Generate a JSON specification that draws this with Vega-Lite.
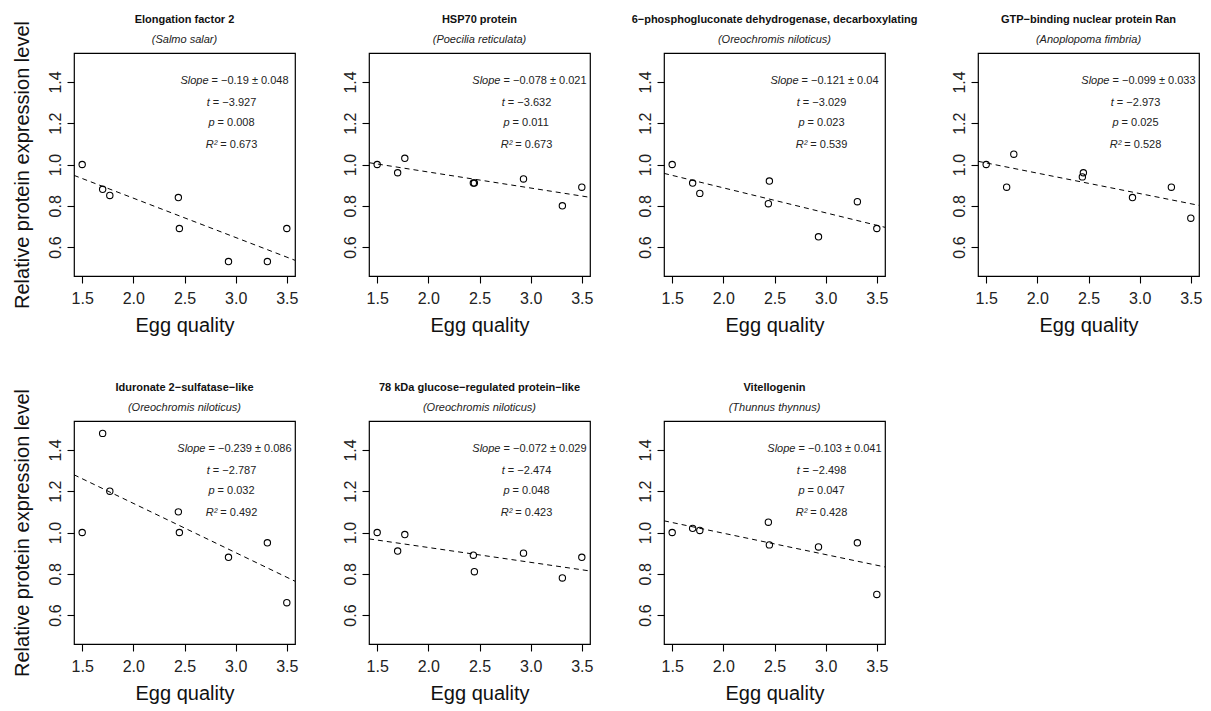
{
  "$schema": "https://vega.github.io/schema/vega-lite/v6.json",
  "background": "white",
  "padding": {"left": 11, "top": 12, "right": 5, "bottom": 5},
  "config": {
    "font": "Liberation Sans",
    "view": {"stroke": "black", "strokeWidth": 1.2},
    "axis": {"grid": false, "domain": false, "tickColor": "black", "tickSize": 7, "tickWidth": 1.1, "labelFontSize": 16, "labelColor": "#222", "labelFont": "Liberation Sans", "titleFont": "Liberation Sans", "titleFontSize": 20, "titleFontWeight": "normal", "titleColor": "#111", "labelOverlap": false, "labelFlush": false},
    "text": {"fontSize": 11, "color": "#222", "font": "Liberation Sans"},
    "title": {"frame": "group", "fontSize": 11, "fontWeight": "bold", "color": "#111", "subtitleFontSize": 11, "subtitleFontStyle": "italic", "subtitleColor": "#222", "subtitlePadding": 9, "offset": 8, "font": "Liberation Sans", "subtitleFont": "Liberation Sans"}
  },
  "datasets": {
    "pts": [
      {"panel": 1, "x": 1.5, "y": 1.0}, {"panel": 1, "x": 1.7, "y": 0.88}, {"panel": 1, "x": 1.77, "y": 0.85}, {"panel": 1, "x": 2.44, "y": 0.84}, {"panel": 1, "x": 2.45, "y": 0.69}, {"panel": 1, "x": 2.93, "y": 0.53}, {"panel": 1, "x": 3.31, "y": 0.53}, {"panel": 1, "x": 3.5, "y": 0.69},
      {"panel": 2, "x": 1.5, "y": 1.0}, {"panel": 2, "x": 1.7, "y": 0.96}, {"panel": 2, "x": 1.77, "y": 1.03}, {"panel": 2, "x": 2.44, "y": 0.91}, {"panel": 2, "x": 2.45, "y": 0.91}, {"panel": 2, "x": 2.93, "y": 0.93}, {"panel": 2, "x": 3.31, "y": 0.8}, {"panel": 2, "x": 3.5, "y": 0.89},
      {"panel": 3, "x": 1.5, "y": 1.0}, {"panel": 3, "x": 1.7, "y": 0.91}, {"panel": 3, "x": 1.77, "y": 0.86}, {"panel": 3, "x": 2.44, "y": 0.81}, {"panel": 3, "x": 2.45, "y": 0.92}, {"panel": 3, "x": 2.93, "y": 0.65}, {"panel": 3, "x": 3.31, "y": 0.82}, {"panel": 3, "x": 3.5, "y": 0.69},
      {"panel": 4, "x": 1.5, "y": 1.0}, {"panel": 4, "x": 1.7, "y": 0.89}, {"panel": 4, "x": 1.77, "y": 1.05}, {"panel": 4, "x": 2.44, "y": 0.94}, {"panel": 4, "x": 2.45, "y": 0.96}, {"panel": 4, "x": 2.93, "y": 0.84}, {"panel": 4, "x": 3.31, "y": 0.89}, {"panel": 4, "x": 3.5, "y": 0.74},
      {"panel": 5, "x": 1.5, "y": 1.0}, {"panel": 5, "x": 1.7, "y": 1.48}, {"panel": 5, "x": 1.77, "y": 1.2}, {"panel": 5, "x": 2.44, "y": 1.1}, {"panel": 5, "x": 2.45, "y": 1.0}, {"panel": 5, "x": 2.93, "y": 0.88}, {"panel": 5, "x": 3.31, "y": 0.95}, {"panel": 5, "x": 3.5, "y": 0.66},
      {"panel": 6, "x": 1.5, "y": 1.0}, {"panel": 6, "x": 1.7, "y": 0.91}, {"panel": 6, "x": 1.77, "y": 0.99}, {"panel": 6, "x": 2.44, "y": 0.89}, {"panel": 6, "x": 2.45, "y": 0.81}, {"panel": 6, "x": 2.93, "y": 0.9}, {"panel": 6, "x": 3.31, "y": 0.78}, {"panel": 6, "x": 3.5, "y": 0.88},
      {"panel": 7, "x": 1.5, "y": 1.0}, {"panel": 7, "x": 1.7, "y": 1.02}, {"panel": 7, "x": 1.77, "y": 1.01}, {"panel": 7, "x": 2.44, "y": 1.05}, {"panel": 7, "x": 2.45, "y": 0.94}, {"panel": 7, "x": 2.93, "y": 0.93}, {"panel": 7, "x": 3.31, "y": 0.95}, {"panel": 7, "x": 3.5, "y": 0.7}
    ],
    "stats": [
      {"panel": 1, "slope": "= −0.19 ± 0.048", "t": "= −3.927", "p": "= 0.008", "r2": "= 0.673"},
      {"panel": 2, "slope": "= −0.078 ± 0.021", "t": "= −3.632", "p": "= 0.011", "r2": "= 0.673"},
      {"panel": 3, "slope": "= −0.121 ± 0.04", "t": "= −3.029", "p": "= 0.023", "r2": "= 0.539"},
      {"panel": 4, "slope": "= −0.099 ± 0.033", "t": "= −2.973", "p": "= 0.025", "r2": "= 0.528"},
      {"panel": 5, "slope": "= −0.239 ± 0.086", "t": "= −2.787", "p": "= 0.032", "r2": "= 0.492"},
      {"panel": 6, "slope": "= −0.072 ± 0.029", "t": "= −2.474", "p": "= 0.048", "r2": "= 0.423"},
      {"panel": 7, "slope": "= −0.103 ± 0.041", "t": "= −2.498", "p": "= 0.047", "r2": "= 0.428"}
    ]
  },
  "bounds": "full",
  "spacing": 44,
  "vconcat": [
    {
      "bounds": "full",
      "spacing": 32,
      "hconcat": [
        {
          "bounds": "flush",
          "spacing": 74,
          "hconcat": [
            {
              "width": 221, "height": 223,
              "title": {"text": "Elongation factor 2", "subtitle": "(Salmo salar)", "offset": -24},
              "layer": [
                {"data": {"name": "pts"}, "transform": [{"filter": "datum.panel == 1"}], "mark": {"type": "point", "shape": "circle", "filled": false, "size": 40, "color": "black", "strokeWidth": 1.1, "opacity": 1},
                 "encoding": {"x": {"field": "x", "type": "quantitative", "scale": {"domain": [1.42, 3.58], "nice": false, "zero": false}, "axis": {"values": [1.5, 2, 2.5, 3, 3.5], "format": ".1f", "title": "Egg quality", "labelPadding": 7, "titlePadding": 9}},
                              "y": {"field": "y", "type": "quantitative", "scale": {"domain": [0.46, 1.54], "nice": false, "zero": false}, "axis": {"values": [0.6, 0.8, 1.0, 1.2, 1.4], "format": ".1f", "labelAngle": -90, "labelAlign": "center", "labelBaseline": "bottom", "labelPadding": 4, "title": "Relative protein expression level", "titlePadding": 15}}}},
                {"data": {"name": "pts"}, "transform": [{"filter": "datum.panel == 1"}, {"regression": "y", "on": "x", "extent": [1.42, 3.58]}], "mark": {"type": "line", "color": "black", "strokeWidth": 1, "strokeDash": [5, 4], "clip": true},
                 "encoding": {"x": {"field": "x", "type": "quantitative"}, "y": {"field": "y", "type": "quantitative"}}},
                {"data": {"name": "stats"}, "transform": [{"filter": "datum.panel == 1"}], "mark": {"type": "text", "text": "Slope", "fontStyle": "italic", "align": "right"}, "encoding": {"x": {"datum": 2.735}, "y": {"datum": 1.405}}},
                {"data": {"name": "stats"}, "transform": [{"filter": "datum.panel == 1"}], "mark": {"type": "text", "align": "left", "dx": 3}, "encoding": {"x": {"datum": 2.735}, "y": {"datum": 1.405}, "text": {"field": "slope"}}},
                {"data": {"name": "stats"}, "transform": [{"filter": "datum.panel == 1"}], "mark": {"type": "text", "text": "t", "fontStyle": "italic", "align": "right"}, "encoding": {"x": {"datum": 2.748}, "y": {"datum": 1.3}}},
                {"data": {"name": "stats"}, "transform": [{"filter": "datum.panel == 1"}], "mark": {"type": "text", "align": "left", "dx": 3}, "encoding": {"x": {"datum": 2.748}, "y": {"datum": 1.3}, "text": {"field": "t"}}},
                {"data": {"name": "stats"}, "transform": [{"filter": "datum.panel == 1"}], "mark": {"type": "text", "text": "p", "fontStyle": "italic", "align": "right"}, "encoding": {"x": {"datum": 2.794}, "y": {"datum": 1.2}}},
                {"data": {"name": "stats"}, "transform": [{"filter": "datum.panel == 1"}], "mark": {"type": "text", "align": "left", "dx": 3}, "encoding": {"x": {"datum": 2.794}, "y": {"datum": 1.2}, "text": {"field": "p"}}},
                {"data": {"name": "stats"}, "transform": [{"filter": "datum.panel == 1"}], "mark": {"type": "text", "text": "R²", "fontStyle": "italic", "align": "right"}, "encoding": {"x": {"datum": 2.821}, "y": {"datum": 1.095}}},
                {"data": {"name": "stats"}, "transform": [{"filter": "datum.panel == 1"}], "mark": {"type": "text", "align": "left", "dx": 3}, "encoding": {"x": {"datum": 2.821}, "y": {"datum": 1.095}, "text": {"field": "r2"}}}
              ]
            },
            {
              "width": 221, "height": 223,
              "title": {"text": "HSP70 protein", "subtitle": "(Poecilia reticulata)"},
              "layer": [
                {"data": {"name": "pts"}, "transform": [{"filter": "datum.panel == 2"}], "mark": {"type": "point", "shape": "circle", "filled": false, "size": 40, "color": "black", "strokeWidth": 1.1, "opacity": 1},
                 "encoding": {"x": {"field": "x", "type": "quantitative", "scale": {"domain": [1.42, 3.58], "nice": false, "zero": false}, "axis": {"values": [1.5, 2, 2.5, 3, 3.5], "format": ".1f", "title": "Egg quality", "labelPadding": 7, "titlePadding": 9}},
                              "y": {"field": "y", "type": "quantitative", "scale": {"domain": [0.46, 1.54], "nice": false, "zero": false}, "axis": {"values": [0.6, 0.8, 1.0, 1.2, 1.4], "format": ".1f", "labelAngle": -90, "labelAlign": "center", "labelBaseline": "bottom", "labelPadding": 4, "title": null}}}},
                {"data": {"name": "pts"}, "transform": [{"filter": "datum.panel == 2"}, {"regression": "y", "on": "x", "extent": [1.42, 3.58]}], "mark": {"type": "line", "color": "black", "strokeWidth": 1, "strokeDash": [5, 4], "clip": true},
                 "encoding": {"x": {"field": "x", "type": "quantitative"}, "y": {"field": "y", "type": "quantitative"}}},
                {"data": {"name": "stats"}, "transform": [{"filter": "datum.panel == 2"}], "mark": {"type": "text", "text": "Slope", "fontStyle": "italic", "align": "right"}, "encoding": {"x": {"datum": 2.705}, "y": {"datum": 1.405}}},
                {"data": {"name": "stats"}, "transform": [{"filter": "datum.panel == 2"}], "mark": {"type": "text", "align": "left", "dx": 3}, "encoding": {"x": {"datum": 2.705}, "y": {"datum": 1.405}, "text": {"field": "slope"}}},
                {"data": {"name": "stats"}, "transform": [{"filter": "datum.panel == 2"}], "mark": {"type": "text", "text": "t", "fontStyle": "italic", "align": "right"}, "encoding": {"x": {"datum": 2.748}, "y": {"datum": 1.3}}},
                {"data": {"name": "stats"}, "transform": [{"filter": "datum.panel == 2"}], "mark": {"type": "text", "align": "left", "dx": 3}, "encoding": {"x": {"datum": 2.748}, "y": {"datum": 1.3}, "text": {"field": "t"}}},
                {"data": {"name": "stats"}, "transform": [{"filter": "datum.panel == 2"}], "mark": {"type": "text", "text": "p", "fontStyle": "italic", "align": "right"}, "encoding": {"x": {"datum": 2.794}, "y": {"datum": 1.2}}},
                {"data": {"name": "stats"}, "transform": [{"filter": "datum.panel == 2"}], "mark": {"type": "text", "align": "left", "dx": 3}, "encoding": {"x": {"datum": 2.794}, "y": {"datum": 1.2}, "text": {"field": "p"}}},
                {"data": {"name": "stats"}, "transform": [{"filter": "datum.panel == 2"}], "mark": {"type": "text", "text": "R²", "fontStyle": "italic", "align": "right"}, "encoding": {"x": {"datum": 2.821}, "y": {"datum": 1.095}}},
                {"data": {"name": "stats"}, "transform": [{"filter": "datum.panel == 2"}], "mark": {"type": "text", "align": "left", "dx": 3}, "encoding": {"x": {"datum": 2.821}, "y": {"datum": 1.095}, "text": {"field": "r2"}}}
              ]
            },
            {
              "width": 221, "height": 223,
              "title": {"text": "6−phosphogluconate dehydrogenase, decarboxylating", "subtitle": "(Oreochromis niloticus)"},
              "layer": [
                {"data": {"name": "pts"}, "transform": [{"filter": "datum.panel == 3"}], "mark": {"type": "point", "shape": "circle", "filled": false, "size": 40, "color": "black", "strokeWidth": 1.1, "opacity": 1},
                 "encoding": {"x": {"field": "x", "type": "quantitative", "scale": {"domain": [1.42, 3.58], "nice": false, "zero": false}, "axis": {"values": [1.5, 2, 2.5, 3, 3.5], "format": ".1f", "title": "Egg quality", "labelPadding": 7, "titlePadding": 9}},
                              "y": {"field": "y", "type": "quantitative", "scale": {"domain": [0.46, 1.54], "nice": false, "zero": false}, "axis": {"values": [0.6, 0.8, 1.0, 1.2, 1.4], "format": ".1f", "labelAngle": -90, "labelAlign": "center", "labelBaseline": "bottom", "labelPadding": 4, "title": null}}}},
                {"data": {"name": "pts"}, "transform": [{"filter": "datum.panel == 3"}, {"regression": "y", "on": "x", "extent": [1.42, 3.58]}], "mark": {"type": "line", "color": "black", "strokeWidth": 1, "strokeDash": [5, 4], "clip": true},
                 "encoding": {"x": {"field": "x", "type": "quantitative"}, "y": {"field": "y", "type": "quantitative"}}},
                {"data": {"name": "stats"}, "transform": [{"filter": "datum.panel == 3"}], "mark": {"type": "text", "text": "Slope", "fontStyle": "italic", "align": "right"}, "encoding": {"x": {"datum": 2.735}, "y": {"datum": 1.405}}},
                {"data": {"name": "stats"}, "transform": [{"filter": "datum.panel == 3"}], "mark": {"type": "text", "align": "left", "dx": 3}, "encoding": {"x": {"datum": 2.735}, "y": {"datum": 1.405}, "text": {"field": "slope"}}},
                {"data": {"name": "stats"}, "transform": [{"filter": "datum.panel == 3"}], "mark": {"type": "text", "text": "t", "fontStyle": "italic", "align": "right"}, "encoding": {"x": {"datum": 2.748}, "y": {"datum": 1.3}}},
                {"data": {"name": "stats"}, "transform": [{"filter": "datum.panel == 3"}], "mark": {"type": "text", "align": "left", "dx": 3}, "encoding": {"x": {"datum": 2.748}, "y": {"datum": 1.3}, "text": {"field": "t"}}},
                {"data": {"name": "stats"}, "transform": [{"filter": "datum.panel == 3"}], "mark": {"type": "text", "text": "p", "fontStyle": "italic", "align": "right"}, "encoding": {"x": {"datum": 2.794}, "y": {"datum": 1.2}}},
                {"data": {"name": "stats"}, "transform": [{"filter": "datum.panel == 3"}], "mark": {"type": "text", "align": "left", "dx": 3}, "encoding": {"x": {"datum": 2.794}, "y": {"datum": 1.2}, "text": {"field": "p"}}},
                {"data": {"name": "stats"}, "transform": [{"filter": "datum.panel == 3"}], "mark": {"type": "text", "text": "R²", "fontStyle": "italic", "align": "right"}, "encoding": {"x": {"datum": 2.821}, "y": {"datum": 1.095}}},
                {"data": {"name": "stats"}, "transform": [{"filter": "datum.panel == 3"}], "mark": {"type": "text", "align": "left", "dx": 3}, "encoding": {"x": {"datum": 2.821}, "y": {"datum": 1.095}, "text": {"field": "r2"}}}
              ]
            }
          ]
        },
        {
          "width": 221, "height": 223,
          "title": {"text": "GTP−binding nuclear protein Ran", "subtitle": "(Anoplopoma fimbria)"},
          "layer": [
            {"data": {"name": "pts"}, "transform": [{"filter": "datum.panel == 4"}], "mark": {"type": "point", "shape": "circle", "filled": false, "size": 40, "color": "black", "strokeWidth": 1.1, "opacity": 1},
             "encoding": {"x": {"field": "x", "type": "quantitative", "scale": {"domain": [1.42, 3.58], "nice": false, "zero": false}, "axis": {"values": [1.5, 2, 2.5, 3, 3.5], "format": ".1f", "title": "Egg quality", "labelPadding": 7, "titlePadding": 9}},
                          "y": {"field": "y", "type": "quantitative", "scale": {"domain": [0.46, 1.54], "nice": false, "zero": false}, "axis": {"values": [0.6, 0.8, 1.0, 1.2, 1.4], "format": ".1f", "labelAngle": -90, "labelAlign": "center", "labelBaseline": "bottom", "labelPadding": 4, "title": null}}}},
            {"data": {"name": "pts"}, "transform": [{"filter": "datum.panel == 4"}, {"regression": "y", "on": "x", "extent": [1.42, 3.58]}], "mark": {"type": "line", "color": "black", "strokeWidth": 1, "strokeDash": [5, 4], "clip": true},
             "encoding": {"x": {"field": "x", "type": "quantitative"}, "y": {"field": "y", "type": "quantitative"}}},
            {"data": {"name": "stats"}, "transform": [{"filter": "datum.panel == 4"}], "mark": {"type": "text", "text": "Slope", "fontStyle": "italic", "align": "right"}, "encoding": {"x": {"datum": 2.705}, "y": {"datum": 1.405}}},
            {"data": {"name": "stats"}, "transform": [{"filter": "datum.panel == 4"}], "mark": {"type": "text", "align": "left", "dx": 3}, "encoding": {"x": {"datum": 2.705}, "y": {"datum": 1.405}, "text": {"field": "slope"}}},
            {"data": {"name": "stats"}, "transform": [{"filter": "datum.panel == 4"}], "mark": {"type": "text", "text": "t", "fontStyle": "italic", "align": "right"}, "encoding": {"x": {"datum": 2.748}, "y": {"datum": 1.3}}},
            {"data": {"name": "stats"}, "transform": [{"filter": "datum.panel == 4"}], "mark": {"type": "text", "align": "left", "dx": 3}, "encoding": {"x": {"datum": 2.748}, "y": {"datum": 1.3}, "text": {"field": "t"}}},
            {"data": {"name": "stats"}, "transform": [{"filter": "datum.panel == 4"}], "mark": {"type": "text", "text": "p", "fontStyle": "italic", "align": "right"}, "encoding": {"x": {"datum": 2.794}, "y": {"datum": 1.2}}},
            {"data": {"name": "stats"}, "transform": [{"filter": "datum.panel == 4"}], "mark": {"type": "text", "align": "left", "dx": 3}, "encoding": {"x": {"datum": 2.794}, "y": {"datum": 1.2}, "text": {"field": "p"}}},
            {"data": {"name": "stats"}, "transform": [{"filter": "datum.panel == 4"}], "mark": {"type": "text", "text": "R²", "fontStyle": "italic", "align": "right"}, "encoding": {"x": {"datum": 2.821}, "y": {"datum": 1.095}}},
            {"data": {"name": "stats"}, "transform": [{"filter": "datum.panel == 4"}], "mark": {"type": "text", "align": "left", "dx": 3}, "encoding": {"x": {"datum": 2.821}, "y": {"datum": 1.095}, "text": {"field": "r2"}}}
          ]
        }
      ]
    },
    {
      "bounds": "flush",
      "spacing": 74,
      "hconcat": [
        {
          "width": 221, "height": 223,
          "title": {"text": "Iduronate 2−sulfatase−like", "subtitle": "(Oreochromis niloticus)", "offset": -24},
          "layer": [
            {"data": {"name": "pts"}, "transform": [{"filter": "datum.panel == 5"}], "mark": {"type": "point", "shape": "circle", "filled": false, "size": 40, "color": "black", "strokeWidth": 1.1, "opacity": 1},
             "encoding": {"x": {"field": "x", "type": "quantitative", "scale": {"domain": [1.42, 3.58], "nice": false, "zero": false}, "axis": {"values": [1.5, 2, 2.5, 3, 3.5], "format": ".1f", "title": "Egg quality", "labelPadding": 7, "titlePadding": 9}},
                          "y": {"field": "y", "type": "quantitative", "scale": {"domain": [0.46, 1.54], "nice": false, "zero": false}, "axis": {"values": [0.6, 0.8, 1.0, 1.2, 1.4], "format": ".1f", "labelAngle": -90, "labelAlign": "center", "labelBaseline": "bottom", "labelPadding": 4, "title": "Relative protein expression level", "titlePadding": 15}}}},
            {"data": {"name": "pts"}, "transform": [{"filter": "datum.panel == 5"}, {"regression": "y", "on": "x", "extent": [1.42, 3.58]}], "mark": {"type": "line", "color": "black", "strokeWidth": 1, "strokeDash": [5, 4], "clip": true},
             "encoding": {"x": {"field": "x", "type": "quantitative"}, "y": {"field": "y", "type": "quantitative"}}},
            {"data": {"name": "stats"}, "transform": [{"filter": "datum.panel == 5"}], "mark": {"type": "text", "text": "Slope", "fontStyle": "italic", "align": "right"}, "encoding": {"x": {"datum": 2.705}, "y": {"datum": 1.405}}},
            {"data": {"name": "stats"}, "transform": [{"filter": "datum.panel == 5"}], "mark": {"type": "text", "align": "left", "dx": 3}, "encoding": {"x": {"datum": 2.705}, "y": {"datum": 1.405}, "text": {"field": "slope"}}},
            {"data": {"name": "stats"}, "transform": [{"filter": "datum.panel == 5"}], "mark": {"type": "text", "text": "t", "fontStyle": "italic", "align": "right"}, "encoding": {"x": {"datum": 2.748}, "y": {"datum": 1.3}}},
            {"data": {"name": "stats"}, "transform": [{"filter": "datum.panel == 5"}], "mark": {"type": "text", "align": "left", "dx": 3}, "encoding": {"x": {"datum": 2.748}, "y": {"datum": 1.3}, "text": {"field": "t"}}},
            {"data": {"name": "stats"}, "transform": [{"filter": "datum.panel == 5"}], "mark": {"type": "text", "text": "p", "fontStyle": "italic", "align": "right"}, "encoding": {"x": {"datum": 2.794}, "y": {"datum": 1.2}}},
            {"data": {"name": "stats"}, "transform": [{"filter": "datum.panel == 5"}], "mark": {"type": "text", "align": "left", "dx": 3}, "encoding": {"x": {"datum": 2.794}, "y": {"datum": 1.2}, "text": {"field": "p"}}},
            {"data": {"name": "stats"}, "transform": [{"filter": "datum.panel == 5"}], "mark": {"type": "text", "text": "R²", "fontStyle": "italic", "align": "right"}, "encoding": {"x": {"datum": 2.821}, "y": {"datum": 1.095}}},
            {"data": {"name": "stats"}, "transform": [{"filter": "datum.panel == 5"}], "mark": {"type": "text", "align": "left", "dx": 3}, "encoding": {"x": {"datum": 2.821}, "y": {"datum": 1.095}, "text": {"field": "r2"}}}
          ]
        },
        {
          "width": 221, "height": 223,
          "title": {"text": "78 kDa glucose−regulated protein−like", "subtitle": "(Oreochromis niloticus)"},
          "layer": [
            {"data": {"name": "pts"}, "transform": [{"filter": "datum.panel == 6"}], "mark": {"type": "point", "shape": "circle", "filled": false, "size": 40, "color": "black", "strokeWidth": 1.1, "opacity": 1},
             "encoding": {"x": {"field": "x", "type": "quantitative", "scale": {"domain": [1.42, 3.58], "nice": false, "zero": false}, "axis": {"values": [1.5, 2, 2.5, 3, 3.5], "format": ".1f", "title": "Egg quality", "labelPadding": 7, "titlePadding": 9}},
                          "y": {"field": "y", "type": "quantitative", "scale": {"domain": [0.46, 1.54], "nice": false, "zero": false}, "axis": {"values": [0.6, 0.8, 1.0, 1.2, 1.4], "format": ".1f", "labelAngle": -90, "labelAlign": "center", "labelBaseline": "bottom", "labelPadding": 4, "title": null}}}},
            {"data": {"name": "pts"}, "transform": [{"filter": "datum.panel == 6"}, {"regression": "y", "on": "x", "extent": [1.42, 3.58]}], "mark": {"type": "line", "color": "black", "strokeWidth": 1, "strokeDash": [5, 4], "clip": true},
             "encoding": {"x": {"field": "x", "type": "quantitative"}, "y": {"field": "y", "type": "quantitative"}}},
            {"data": {"name": "stats"}, "transform": [{"filter": "datum.panel == 6"}], "mark": {"type": "text", "text": "Slope", "fontStyle": "italic", "align": "right"}, "encoding": {"x": {"datum": 2.705}, "y": {"datum": 1.405}}},
            {"data": {"name": "stats"}, "transform": [{"filter": "datum.panel == 6"}], "mark": {"type": "text", "align": "left", "dx": 3}, "encoding": {"x": {"datum": 2.705}, "y": {"datum": 1.405}, "text": {"field": "slope"}}},
            {"data": {"name": "stats"}, "transform": [{"filter": "datum.panel == 6"}], "mark": {"type": "text", "text": "t", "fontStyle": "italic", "align": "right"}, "encoding": {"x": {"datum": 2.748}, "y": {"datum": 1.3}}},
            {"data": {"name": "stats"}, "transform": [{"filter": "datum.panel == 6"}], "mark": {"type": "text", "align": "left", "dx": 3}, "encoding": {"x": {"datum": 2.748}, "y": {"datum": 1.3}, "text": {"field": "t"}}},
            {"data": {"name": "stats"}, "transform": [{"filter": "datum.panel == 6"}], "mark": {"type": "text", "text": "p", "fontStyle": "italic", "align": "right"}, "encoding": {"x": {"datum": 2.794}, "y": {"datum": 1.2}}},
            {"data": {"name": "stats"}, "transform": [{"filter": "datum.panel == 6"}], "mark": {"type": "text", "align": "left", "dx": 3}, "encoding": {"x": {"datum": 2.794}, "y": {"datum": 1.2}, "text": {"field": "p"}}},
            {"data": {"name": "stats"}, "transform": [{"filter": "datum.panel == 6"}], "mark": {"type": "text", "text": "R²", "fontStyle": "italic", "align": "right"}, "encoding": {"x": {"datum": 2.821}, "y": {"datum": 1.095}}},
            {"data": {"name": "stats"}, "transform": [{"filter": "datum.panel == 6"}], "mark": {"type": "text", "align": "left", "dx": 3}, "encoding": {"x": {"datum": 2.821}, "y": {"datum": 1.095}, "text": {"field": "r2"}}}
          ]
        },
        {
          "width": 221, "height": 223,
          "title": {"text": "Vitellogenin", "subtitle": "(Thunnus thynnus)"},
          "layer": [
            {"data": {"name": "pts"}, "transform": [{"filter": "datum.panel == 7"}], "mark": {"type": "point", "shape": "circle", "filled": false, "size": 40, "color": "black", "strokeWidth": 1.1, "opacity": 1},
             "encoding": {"x": {"field": "x", "type": "quantitative", "scale": {"domain": [1.42, 3.58], "nice": false, "zero": false}, "axis": {"values": [1.5, 2, 2.5, 3, 3.5], "format": ".1f", "title": "Egg quality", "labelPadding": 7, "titlePadding": 9}},
                          "y": {"field": "y", "type": "quantitative", "scale": {"domain": [0.46, 1.54], "nice": false, "zero": false}, "axis": {"values": [0.6, 0.8, 1.0, 1.2, 1.4], "format": ".1f", "labelAngle": -90, "labelAlign": "center", "labelBaseline": "bottom", "labelPadding": 4, "title": null}}}},
            {"data": {"name": "pts"}, "transform": [{"filter": "datum.panel == 7"}, {"regression": "y", "on": "x", "extent": [1.42, 3.58]}], "mark": {"type": "line", "color": "black", "strokeWidth": 1, "strokeDash": [5, 4], "clip": true},
             "encoding": {"x": {"field": "x", "type": "quantitative"}, "y": {"field": "y", "type": "quantitative"}}},
            {"data": {"name": "stats"}, "transform": [{"filter": "datum.panel == 7"}], "mark": {"type": "text", "text": "Slope", "fontStyle": "italic", "align": "right"}, "encoding": {"x": {"datum": 2.705}, "y": {"datum": 1.405}}},
            {"data": {"name": "stats"}, "transform": [{"filter": "datum.panel == 7"}], "mark": {"type": "text", "align": "left", "dx": 3}, "encoding": {"x": {"datum": 2.705}, "y": {"datum": 1.405}, "text": {"field": "slope"}}},
            {"data": {"name": "stats"}, "transform": [{"filter": "datum.panel == 7"}], "mark": {"type": "text", "text": "t", "fontStyle": "italic", "align": "right"}, "encoding": {"x": {"datum": 2.748}, "y": {"datum": 1.3}}},
            {"data": {"name": "stats"}, "transform": [{"filter": "datum.panel == 7"}], "mark": {"type": "text", "align": "left", "dx": 3}, "encoding": {"x": {"datum": 2.748}, "y": {"datum": 1.3}, "text": {"field": "t"}}},
            {"data": {"name": "stats"}, "transform": [{"filter": "datum.panel == 7"}], "mark": {"type": "text", "text": "p", "fontStyle": "italic", "align": "right"}, "encoding": {"x": {"datum": 2.794}, "y": {"datum": 1.2}}},
            {"data": {"name": "stats"}, "transform": [{"filter": "datum.panel == 7"}], "mark": {"type": "text", "align": "left", "dx": 3}, "encoding": {"x": {"datum": 2.794}, "y": {"datum": 1.2}, "text": {"field": "p"}}},
            {"data": {"name": "stats"}, "transform": [{"filter": "datum.panel == 7"}], "mark": {"type": "text", "text": "R²", "fontStyle": "italic", "align": "right"}, "encoding": {"x": {"datum": 2.821}, "y": {"datum": 1.095}}},
            {"data": {"name": "stats"}, "transform": [{"filter": "datum.panel == 7"}], "mark": {"type": "text", "align": "left", "dx": 3}, "encoding": {"x": {"datum": 2.821}, "y": {"datum": 1.095}, "text": {"field": "r2"}}}
          ]
        }
      ]
    }
  ]
}
